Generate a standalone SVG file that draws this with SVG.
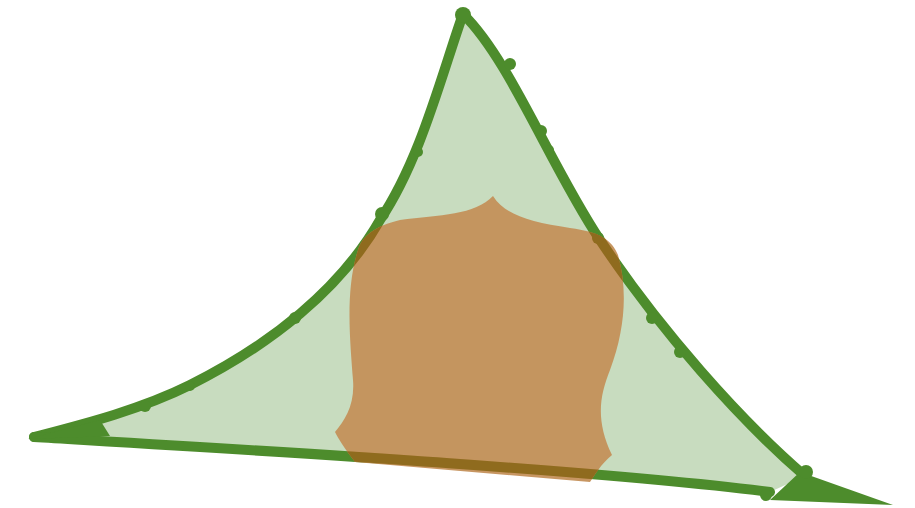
<svg xmlns="http://www.w3.org/2000/svg" width="915" height="508" viewBox="0 0 915 508">
<defs>
<style>
.stroke{fill:none;stroke:currentColor;stroke-width:10;stroke-linecap:round;stroke-linejoin:round}
.bump{fill:currentColor}
</style>
<path id="rockShape" d="M355 462 C345 449 338 438 335 432 C345 420 355 405 353 380 C350 340 345 290 358 250 C362 236 375 226 400 220 C440 215 475 215 493 196 C505 215 530 222 570 228 C600 232 612 240 618 255 C628 290 625 330 610 370 C600 395 595 420 612 455 C600 465 595 475 590 482 Z"/>
<clipPath id="rockClip"><use href="#rockShape"/></clipPath>
<g id="outline">
<path class="stroke" d="M463 14 C440 80 420 160 380 220 C340 290 270 345 190 385 C140 410 80 425 34 437"/>
<path class="stroke" d="M34 437 C250 450 600 470 770 492"/>
<path class="stroke" d="M463 14 C510 60 550 165 600 240 C660 330 740 420 805 476"/>
<path class="bump" d="M28 439 L100 420 L110 436 Z"/>
<path class="bump" d="M800 472 L893 505 L770 500 Z"/>
<g class="bump">
<circle cx="463" cy="15" r="8"/>
<circle cx="510" cy="64" r="6"/>
<circle cx="541" cy="131" r="6"/>
<circle cx="549" cy="150" r="5"/>
<circle cx="418" cy="152" r="5"/>
<circle cx="382" cy="214" r="7"/>
<circle cx="598" cy="238" r="6"/>
<circle cx="295" cy="318" r="6"/>
<circle cx="190" cy="386" r="5"/>
<circle cx="145" cy="406" r="6"/>
<circle cx="652" cy="318" r="6"/>
<circle cx="680" cy="352" r="6"/>
<circle cx="806" cy="472" r="7"/>
<circle cx="766" cy="495" r="6"/>
</g>
</g>
</defs>
<rect width="915" height="508" fill="#ffffff"/>
<g id="hill">
<path d="M463 14 C440 80 420 160 380 220 C340 290 270 345 190 385 C140 410 80 425 30 438 C250 450 600 470 770 492 L805 476 C740 420 660 330 600 240 C550 165 510 60 463 14 Z" fill="#c8dcbf"/>
<use href="#outline" color="#4d8c2c"/>
</g>
<g id="rock">
<use href="#rockShape" fill="#c4905a" fill-opacity="0.95"/>
<g clip-path="url(#rockClip)">
<use href="#outline" color="#8f6b1e"/>
</g>
</g>
</svg>
